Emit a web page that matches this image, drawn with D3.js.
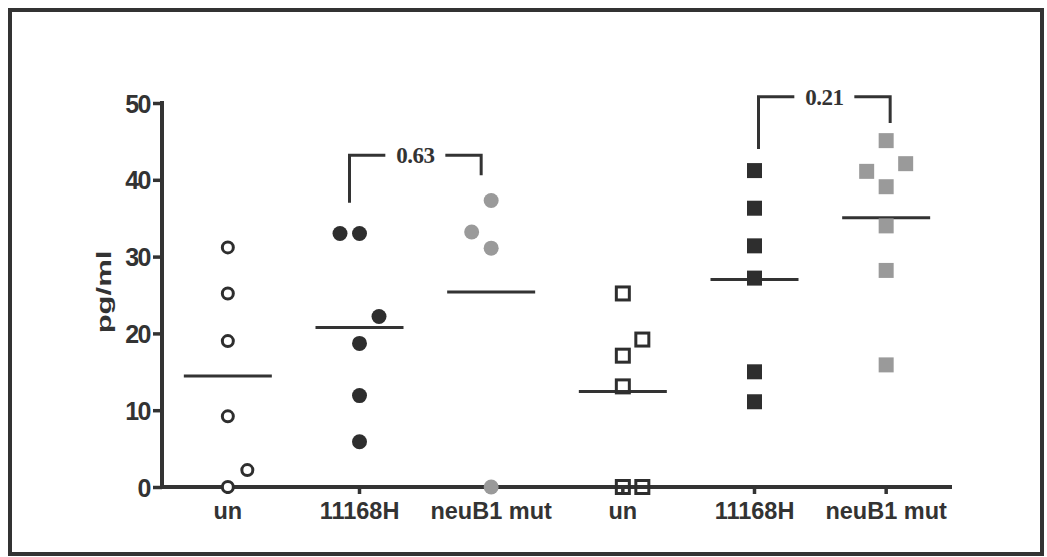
<!DOCTYPE html>
<html><head><meta charset="utf-8">
<script src="https://cdn.jsdelivr.net/npm/d3@7"></script>
<style>html,body{margin:0;padding:0;background:#fff;}svg{display:block;}</style>
</head><body>
<script>
// ---- data ----
const categories = ["un", "11168H", "neuB1 mut", "un", "11168H", "neuB1 mut"];
const yTicks = [0, 10, 20, 30, 40, 50];

const unCircle     = [31.2, 25.2, 19, 9.2, 2.2, 0];
const h11168Circle = [33, 33, 22.2, 18.7, 11.9, 5.9];
const neuB1Circle  = [37.3, 33.2, 31.1, 0];
const unSquare     = [25.2, 19.2, 17.1, 13.1, 0, 0];
const h11168Square = [41.2, 36.3, 31.4, 27.2, 15, 11.1];
const neuB1Square  = [45.1, 42.1, 41.1, 39.1, 34, 28.2, 15.9];

// dodge slots (which column of the scatter each point sits in)
const unCircleSlot     = [0, 0, 0, 0, 1, 0];
const h11168CircleSlot = [-1, 0, 1, 0, 0, 0];
const neuB1CircleSlot  = [0, -1, 0, 0];
const unSquareSlot     = [0, 1, 0, 0, 0, 1];
const h11168SquareSlot = [0, 0, 0, 0, 0, 0];
const neuB1SquareSlot  = [0, 1, -1, 0, 0, 0, 0];

const pLabels   = ["0.63", "0.21"];
const pFrom     = [1, 4];
const pTo       = [2, 5];
const pTop      = [43.2, 50.8];
const pEndFrom  = [37, 44];
const pEndTo    = [40.6, 47.4];

// ---- build ----
const groups = [
  {v: unCircle, s: unCircleSlot, shape: "circle", fill: "none"},
  {v: h11168Circle, s: h11168CircleSlot, shape: "circle", fill: "dark"},
  {v: neuB1Circle, s: neuB1CircleSlot, shape: "circle", fill: "gray"},
  {v: unSquare, s: unSquareSlot, shape: "square", fill: "none"},
  {v: h11168Square, s: h11168SquareSlot, shape: "square", fill: "dark"},
  {v: neuB1Square, s: neuB1SquareSlot, shape: "square", fill: "gray"}
];

const W = 1047, H = 557;
const dark = "#2e2e2e", gray = "#9a9a9a";
const sans = "'Liberation Sans', Arial, sans-serif";
const svg = d3.select("body").append("svg").attr("width", W).attr("height", H);

svg.append("rect").attr("x", 10).attr("y", 10).attr("width", 1032).attr("height", 544)
  .attr("fill", "#fff").attr("stroke", "#333").attr("stroke-width", 4);

const x = d3.scaleBand().domain(d3.range(categories.length)).range([162, 952]);
const y = d3.scaleLinear().domain([0, 50]).range([487, 103]);
const cx = i => x(i) + x.bandwidth() / 2;
const slotStep = 19.5;

// axes
const yAxis = svg.append("g").attr("transform", "translate(162,0)")
  .call(d3.axisLeft(y).tickValues(yTicks).tickSize(9).tickPadding(3));
const xAxis = svg.append("g").attr("transform", "translate(0,487)")
  .call(d3.axisBottom(x).tickFormat(i => categories[i]).tickSize(7).tickPadding(5));
[yAxis, xAxis].forEach(a => {
  a.select(".domain").attr("stroke", "#333").attr("stroke-width", 4);
  a.selectAll(".tick line").attr("stroke", "#333").attr("stroke-width", 3.5);
  a.selectAll(".tick text").attr("fill", "#333")
    .style("font-family", sans).style("font-weight", "bold");
});
yAxis.selectAll(".tick text").style("font-size", "25px").style("letter-spacing", "-1.5px").attr("dy", "0.36em");
xAxis.selectAll(".tick text").style("font-size", "23.5px").attr("dy", "0.85em");
yAxis.select(".domain").attr("d", "M0," + y(0) + "V" + (y(50) - 2));
xAxis.select(".domain").attr("d", "M162,0H952");

svg.append("text").attr("transform", "translate(111,292) rotate(-90) scale(1.55,1)")
  .attr("text-anchor", "middle").attr("fill", "#333")
  .style("font-family", sans)
  .style("font-weight", "bold").style("font-size", "20px").text("pg/ml");

// means
groups.forEach((g, i) => {
  const m = d3.mean(g.v);
  svg.append("line").attr("x1", cx(i) - 44).attr("x2", cx(i) + 44)
    .attr("y1", y(m)).attr("y2", y(m)).attr("stroke", "#333").attr("stroke-width", 3);
});

// points
groups.forEach((g, i) => {
  const pts = g.v.map((v, k) => ({px: cx(i) + g.s[k] * slotStep, py: y(v)}));
  const col = g.fill === "gray" ? gray : dark;
  if (g.shape === "circle") {
    const sel = svg.append("g").selectAll("circle").data(pts).join("circle")
      .attr("cx", d => d.px).attr("cy", d => d.py);
    if (g.fill === "none") sel.attr("r", 5.5).attr("fill", "#fff").attr("stroke", dark).attr("stroke-width", 3);
    else sel.attr("r", 7.5).attr("fill", col);
  } else {
    const sel = svg.append("g").selectAll("rect").data(pts).join("rect");
    if (g.fill === "none") sel.attr("x", d => d.px - 6.5).attr("y", d => d.py - 6.5)
      .attr("width", 13).attr("height", 13).attr("fill", "none").attr("stroke", dark).attr("stroke-width", 3);
    else sel.attr("x", d => d.px - 7.5).attr("y", d => d.py - 7.5)
      .attr("width", 15).attr("height", 15).attr("fill", col);
  }
});

// significance brackets
const bracketDx = [-10, 4];
pLabels.forEach((lab, k) => {
  const x1 = cx(pFrom[k]) + bracketDx[k], x2 = cx(pTo[k]) + bracketDx[k];
  const yt = y(pTop[k]);
  const mid = (x1 + x2) / 2;
  const gap = 30;
  const g = svg.append("g").attr("stroke", "#333").attr("stroke-width", 3).attr("fill", "none");
  g.append("path").attr("d", `M${x1},${y(pEndFrom[k])}V${yt}H${mid - gap}`);
  g.append("path").attr("d", `M${mid + gap},${yt}H${x2}V${y(pEndTo[k])}`);
  svg.append("text").attr("x", mid).attr("y", yt + 8).attr("text-anchor", "middle")
    .attr("fill", "#333").style("font-family", "'Liberation Serif', 'Times New Roman', serif")
    .style("font-weight", "bold").style("font-size", "23px").style("letter-spacing", "-0.5px").text(lab);
});
</script>
</body></html>
